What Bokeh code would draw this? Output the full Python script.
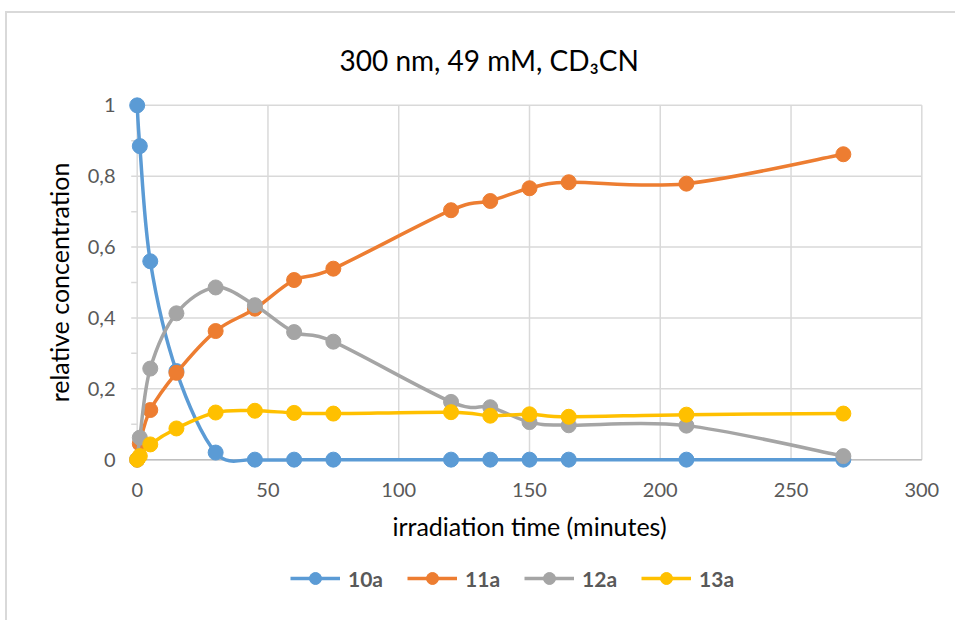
import math
from bokeh.plotting import figure
from bokeh.layouts import column
from bokeh.models import Range1d, LinearAxis, FixedTicker, Legend, LegendItem, ColumnDataSource
from bokeh.embed import file_html
from bokeh.resources import INLINE

# ---- data ----
TIME = [0, 1, 5, 15, 30, 45, 60, 75, 120, 135, 150, 165, 210, 270]
C_10A = [1.0, 0.885, 0.56, 0.25, 0.02, 0.0, 0.0, 0.0, 0.0, 0.0, 0.0, 0.0, 0.0, 0.0]
C_11A = [0.0, 0.045, 0.14, 0.245, 0.363, 0.426, 0.507, 0.539, 0.704, 0.73, 0.766, 0.783, 0.779, 0.862]
C_12A = [0.0, 0.062, 0.257, 0.413, 0.486, 0.436, 0.36, 0.333, 0.163, 0.148, 0.106, 0.097, 0.096, 0.01]
C_13A = [0.0, 0.01, 0.043, 0.088, 0.133, 0.138, 0.132, 0.13, 0.134, 0.124, 0.128, 0.121, 0.127, 0.13]
SERIES_NAMES = ["10a", "11a", "12a", "13a"]
SERIES_COLORS = ["#5B9BD5", "#ED7D31", "#A5A5A5", "#FFC000"]

X_TICKS = [0, 50, 100, 150, 200, 250, 300]
Y_TICKS = [0, 0.2, 0.4, 0.6, 0.8, 1]
Y_MINOR = [0.1, 0.3, 0.5, 0.7, 0.9]
Y_LABELS = ["0", "0,2", "0,4", "0,6", "0,8", "1"]

TITLE = "300 nm, 49 mM, CD\u2083CN"
X_TITLE = "irradiation time (minutes)"
Y_TITLE = "relative concentration"

FONT = "Lato"
LW = 3.5


def smooth_segments(xs, ys):
    """Cubic Bezier control points of a smoothed line (Catmull-Rom style)."""
    n = len(xs)
    d = dict(x0=[], y0=[], x1=[], y1=[], cx0=[], cy0=[], cx1=[], cy1=[])
    for i in range(n - 1):
        a = max(i - 1, 0)
        b = min(i + 2, n - 1)
        d["x0"].append(xs[i]); d["y0"].append(ys[i])
        d["x1"].append(xs[i + 1]); d["y1"].append(ys[i + 1])
        d["cx0"].append(xs[i] + (xs[i + 1] - xs[a]) / 6.0)
        d["cy0"].append(ys[i] + (ys[i + 1] - ys[a]) / 6.0)
        d["cx1"].append(xs[i + 1] - (xs[b] - xs[i]) / 6.0)
        d["cy1"].append(ys[i + 1] - (ys[b] - ys[i]) / 6.0)
    return d


p = figure(width=948, height=545,
           x_range=Range1d(-6, 306), y_range=Range1d(-0.025, 1.025),
           x_axis_type=None, y_axis_type=None,
           output_backend="svg", toolbar_location=None,
           min_border_left=114, min_border_right=18,
           min_border_top=83, min_border_bottom=90)
p.outline_line_color = None
p.background_fill_color = "white"
p.border_fill_color = "white"

# title
p.title.text = TITLE
p.title.text_font = FONT
p.title.text_font_size = "28px"
p.title.text_font_style = "normal"
p.title.text_color = "#000000"
p.title.align = "left"
p.title.offset = 218
p.title.standoff = 40

# grid lines (drawn from tick arrays)
p.segment(x0=[X_TICKS[0]] * len(Y_TICKS), x1=[X_TICKS[-1]] * len(Y_TICKS),
          y0=Y_TICKS, y1=Y_TICKS, line_color="#D9D9D9", line_width=1.5, level="underlay")
p.segment(x0=X_TICKS, x1=X_TICKS,
          y0=[Y_TICKS[0]] * len(X_TICKS), y1=[Y_TICKS[-1]] * len(X_TICKS),
          line_color="#D9D9D9", line_width=1.5, level="underlay")
# y-axis tick marks (major + minor), pointing outwards
yt = Y_TICKS + Y_MINOR
p.ray(x=[X_TICKS[0]] * len(yt), y=yt, length=6, length_units="screen",
      angle=math.pi, line_color="#D9D9D9", line_width=1.5, level="underlay")
# x-axis line
p.segment(x0=[X_TICKS[0]], x1=[X_TICKS[-1]], y0=[Y_TICKS[0]], y1=[Y_TICKS[0]],
          line_color="#BFBFBF", line_width=1.5, level="underlay")

# axes (labels only; lines drawn above)
yaxis = LinearAxis(bounds=(Y_TICKS[0], Y_TICKS[-1]),
                   ticker=FixedTicker(ticks=Y_TICKS, minor_ticks=[]))
yaxis.major_label_overrides = {t: l for t, l in zip(Y_TICKS, Y_LABELS)}
yaxis.axis_label = Y_TITLE
yaxis.axis_label_text_font = FONT
yaxis.axis_label_text_font_size = "25px"
yaxis.axis_label_text_font_style = "normal"
yaxis.axis_label_text_color = "#000000"
yaxis.axis_label_standoff = 11
yaxis.major_label_text_font = FONT
yaxis.major_label_text_font_size = "20px"
yaxis.major_label_text_color = "#595959"
yaxis.major_label_standoff = 6
yaxis.axis_line_color = None
yaxis.major_tick_line_color = None
yaxis.minor_tick_line_color = None
yaxis.major_tick_out = 0
yaxis.major_tick_in = 0
p.add_layout(yaxis, "left")

xaxis = LinearAxis(bounds=(X_TICKS[0], X_TICKS[-1]),
                   ticker=FixedTicker(ticks=X_TICKS, minor_ticks=[]))
xaxis.axis_label = X_TITLE
xaxis.axis_label_text_font = FONT
xaxis.axis_label_text_font_size = "25px"
xaxis.axis_label_text_font_style = "normal"
xaxis.axis_label_text_color = "#000000"
xaxis.axis_label_standoff = 11
xaxis.major_label_text_font = FONT
xaxis.major_label_text_font_size = "20px"
xaxis.major_label_text_color = "#595959"
xaxis.major_label_standoff = 14
xaxis.axis_line_color = None
xaxis.major_tick_line_color = None
xaxis.minor_tick_line_color = None
xaxis.major_tick_out = 0
xaxis.major_tick_in = 0
p.add_layout(xaxis, "below")

# series
for name, color, ys in zip(SERIES_NAMES, SERIES_COLORS, [C_10A, C_11A, C_12A, C_13A]):
    seg = ColumnDataSource(smooth_segments(TIME, ys))
    p.bezier(x0="x0", y0="y0", x1="x1", y1="y1",
             cx0="cx0", cy0="cy0", cx1="cx1", cy1="cy1",
             source=seg, line_color=color, line_width=LW, line_cap="round")
    p.scatter(x=TIME, y=ys, size=15, marker="circle",
              fill_color=color, line_color=color)

# legend strip below the chart (hidden proxy renderers carry the legend glyphs)
pl = figure(width=948, height=62, x_range=Range1d(0, 1), y_range=Range1d(0, 1),
            x_axis_type=None, y_axis_type=None,
            output_backend="svg", toolbar_location=None, min_border=0)
pl.outline_line_color = None
pl.background_fill_color = "white"
pl.border_fill_color = "white"
items = []
for name, color, ys in zip(SERIES_NAMES, SERIES_COLORS, [C_10A, C_11A, C_12A, C_13A]):
    r_line = pl.line(x=TIME, y=ys, line_color=color, line_width=LW, visible=False)
    r_pts = pl.scatter(x=TIME, y=ys, size=15, marker="circle",
                       fill_color=color, line_color=color, visible=False)
    items.append(LegendItem(label=name, renderers=[r_line, r_pts]))
legend = Legend(items=items, orientation="horizontal", location=(169, 27),
                glyph_width=50, glyph_height=30, spacing=24, label_standoff=8,
                label_text_font=FONT, label_text_font_size="21px",
                label_text_font_style="bold", label_text_color="#595959",
                border_line_color=None, background_fill_alpha=0,
                padding=0, margin=0)
pl.add_layout(legend, "center")

layout = column(p, pl, spacing=0,
                styles={"margin-left": "5px", "margin-top": "11px",
                        "border-left": "2px solid #D9D9D9",
                        "border-top": "2px solid #D9D9D9"})

open("out.html", "w").write(file_html(layout, INLINE))
